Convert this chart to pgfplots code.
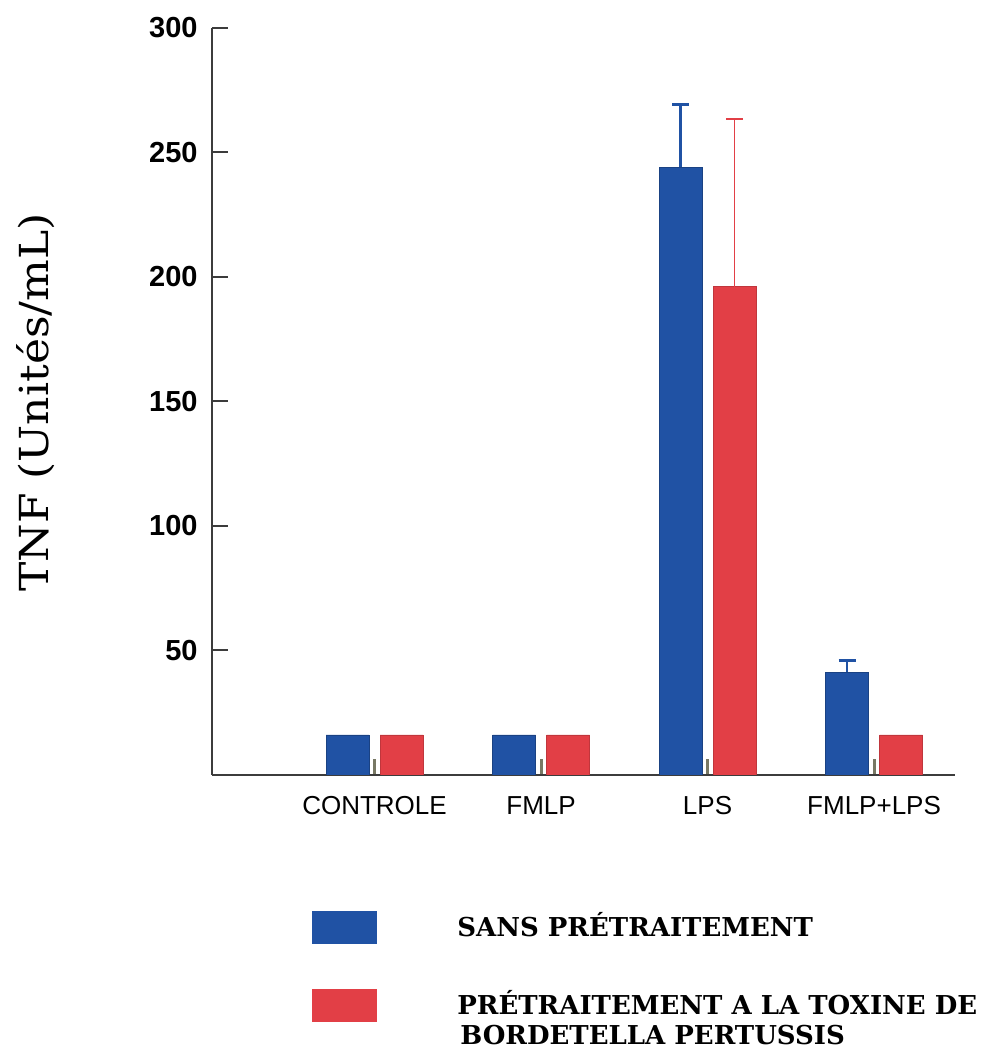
\documentclass[border=0pt]{standalone}
\usepackage{pgfplots}
\pgfplotsset{compat=1.18}
\usepackage{fontspec}
\setmainfont{Liberation Sans}
\newfontfamily\labfont[FakeStretch=1.1]{DejaVu Serif}
\newfontfamily\legfont{DejaVu Serif}
\definecolor{barblue}{RGB}{32,82,164}
\definecolor{barred}{RGB}{226,63,70}
\definecolor{axisgray}{RGB}{60,60,60}
\definecolor{tickolive}{RGB}{120,120,100}

\begin{document}
\begin{tikzpicture}
\useasboundingbox (0,0) rectangle (490pt,529.5pt);
\begin{axis}[
  at={(106pt,142pt)}, anchor=south west,
  scale only axis, width=371.5pt, height=373.5pt,
  xmin=0.024, xmax=4.486, ymin=0, ymax=300,
  axis x line=bottom, axis y line=left,
  axis line style={-, draw=axisgray, line width=1pt},
  ybar, bar width=21.5pt,
  xtick={1,2,3,4}, xticklabels={CONTROLE,FMLP,LPS,FMLP+LPS},
  ytick={50,100,...,300},
  tick align=inside, major tick length=8pt,
  xtick style={draw=tickolive, line width=1.5pt},
  ytick style={draw=axisgray, line width=1pt},
  xticklabel style={font=\fontsize{13}{13}\selectfont, yshift=-7.2pt},
  yticklabel style={font=\bfseries\fontsize{14.5}{14.5}\selectfont, xshift=-3.7pt},
  /pgf/number format/assume math mode=true,
]
% sans prétraitement
\addplot[bar shift=-13.5pt, fill=barblue, draw=barblue!80!black, line width=0.4pt]
  coordinates {(1,16.1) (2,16.1) (3,244) (4,41.3)};
% prétraitement à la toxine
\addplot[bar shift=13.5pt, fill=barred, draw=barred!85!black, line width=0.4pt]
  coordinates {(1,16.1) (2,16.1) (3,196.1) (4,16.1)};
% upper error bars (only where reported)
\addplot[bar shift=-13.5pt, fill=none, draw=none, forget plot,
  error bars/.cd, y dir=plus, y explicit,
  error bar style={draw=barblue, line width=1.2pt},
  error mark options={rotate=90, draw=barblue, line width=1.5pt, mark size=4.25pt}]
  coordinates {(3,244) +- (0,25.3) (4,41.3) +- (0,4.5)};
\addplot[bar shift=13.5pt, fill=none, draw=none, forget plot,
  error bars/.cd, y dir=plus, y explicit,
  error bar style={draw=barred, line width=0.9pt},
  error mark options={rotate=90, draw=barred, line width=1.2pt, mark size=4.25pt}]
  coordinates {(3,196.1) +- (0,67.3)};
\end{axis}
\node[rotate=90, font=\labfont\fontsize{20}{20}\selectfont] at (18pt,328.25pt) {TNF (Unités/mL)};
\fill[barblue] (156pt,57.5pt) rectangle (188.35pt,74.15pt);
\fill[barred] (156pt,18.5pt) rectangle (188.35pt,35pt);
\begin{scope}[every node/.style={anchor=base west, inner sep=0pt, font=\legfont\bfseries\fontsize{13}{13}\selectfont}]
\node at (228.5pt,61.15pt) {SANS PRÉTRAITEMENT};
\node at (228.5pt,22pt) {PRÉTRAITEMENT A LA TOXINE DE};
\node at (230pt,7pt) {BORDETELLA PERTUSSIS};
\end{scope}
\end{tikzpicture}
\end{document}
